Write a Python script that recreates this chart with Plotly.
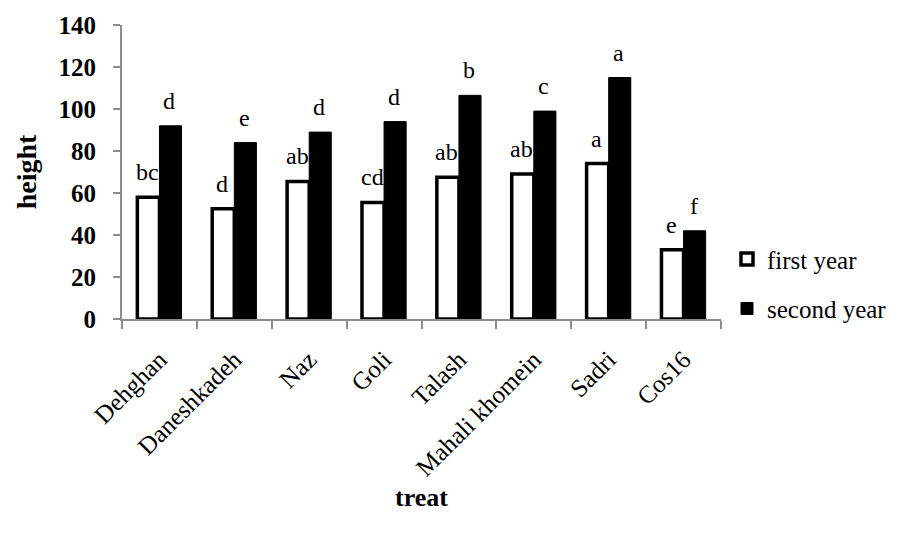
import plotly.graph_objects as go

categories = ["Dehghan", "Daneshkadeh", "Naz", "Goli", "Talash", "Mahali khomein", "Sadri", "Cos16"]
first_year = [58, 52.5, 65.5, 55.5, 67.5, 69, 74, 33]
second_year = [92, 84, 89, 94, 106.5, 99, 115, 42]
first_letters = ["bc", "d", "ab", "cd", "ab", "ab", "a", "e"]
second_letters = ["d", "e", "d", "d", "b", "c", "a", "f"]
y_ticks = [0, 20, 40, 60, 80, 100, 120, 140]

FONT = "Liberation Serif"

fig = go.Figure()
fig.add_trace(go.Bar(
    x=categories, y=first_year, name="first year", legendgroup="g1",
    marker=dict(color="white", line=dict(color="black", width=3.5)),
))
fig.add_trace(go.Bar(
    x=categories, y=second_year, name="second year", legendgroup="g2",
    marker=dict(color="black", line=dict(color="black", width=1)),
))

annotations = []
for c, v, t in zip(categories, first_year, first_letters):
    annotations.append(dict(x=c, y=v, text=t, xref="x", yref="y", showarrow=False,
                            xshift=-12, yshift=10, yanchor="bottom",
                            font=dict(family=FONT, size=24, color="black")))
for c, v, t in zip(categories, second_year, second_letters):
    annotations.append(dict(x=c, y=v, text=t, xref="x", yref="y", showarrow=False,
                            xshift=10, yshift=10, yanchor="bottom",
                            font=dict(family=FONT, size=24, color="black")))

fig.update_layout(
    width=908, height=534,
    margin=dict(l=122, r=187, t=25, b=215, autoexpand=False),
    paper_bgcolor="white", plot_bgcolor="white",
    barmode="group", bargap=0.41, bargroupgap=0,
    font=dict(family=FONT, color="black"),
    showlegend=True,
    legend=dict(x=1.01, y=0.12, xanchor="left", yanchor="middle",
                font=dict(family=FONT, size=25, color="black"),
                tracegroupgap=14, traceorder="grouped", itemwidth=30),
    annotations=annotations,
)
fig.update_xaxes(
    type="category", showgrid=False, showline=True, linecolor="#8c8c8c", linewidth=2,
    ticks="outside", tickson="boundaries", ticklen=8, tickcolor="#8c8c8c", tickwidth=2,
    tickangle=-45, tickfont=dict(family=FONT, size=25, color="black"), ticklabelstandoff=14,
    automargin=False,
    title=dict(text="treat", font=dict(family=FONT, size=26, color="black", weight="bold"), standoff=8),
)
fig.update_yaxes(
    range=[0, 140], tickvals=y_ticks, showgrid=False, showline=True, linecolor="#8c8c8c", linewidth=2,
    ticks="outside", ticklen=7, tickcolor="#8c8c8c", tickwidth=2,
    tickfont=dict(family=FONT, size=25, color="black", weight="bold"), ticklabelstandoff=12,
    automargin=False,
    title=dict(text="height", font=dict(family=FONT, size=28, color="black", weight="bold"), standoff=14),
    zeroline=False,
)

fig.write_html("out.html")
